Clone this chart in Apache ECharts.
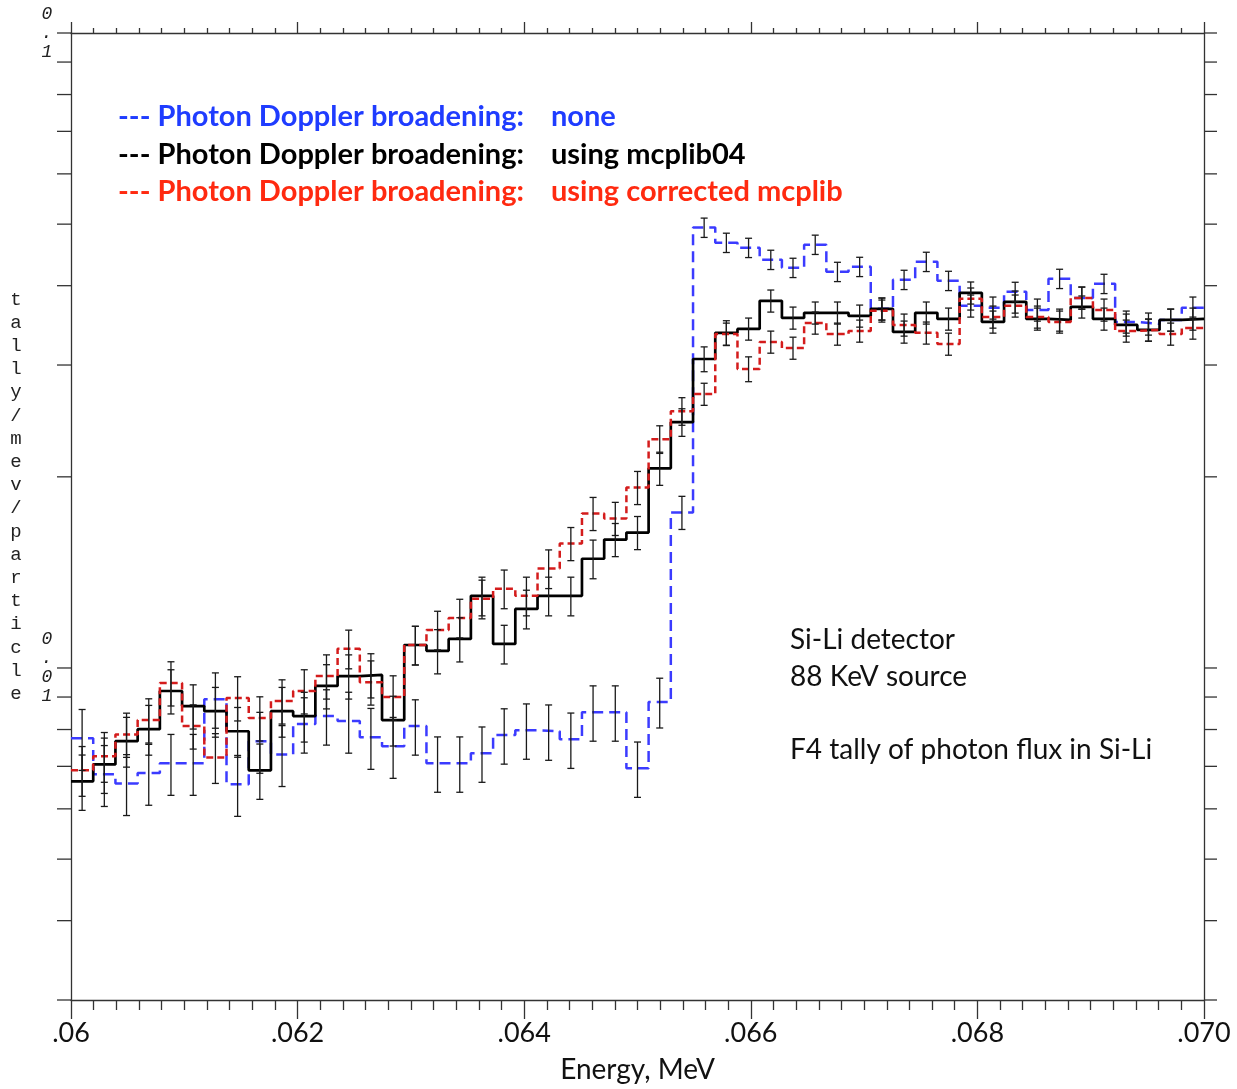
<!DOCTYPE html>
<html>
<head>
<meta charset="utf-8">
<script src="https://cdn.jsdelivr.net/npm/echarts@6/dist/echarts.min.js"></script>
<style>html,body{margin:0;padding:0;background:#fff}#c{width:1237px;height:1089px}</style>
</head>
<body>
<div id="c"></div>
<script>
// ---- axis definition ----
const E_MIN = 0.06, E_MAX = 0.07, N_BINS = 51;      // tally energy bins 0.06 50i 0.07
const xTickLabels = ['.06', '.062', '.064', '.066', '.068', '.070'];
const yMin = 0.003, yMax = 0.1;
const yTickValues = [0.003, 0.004, 0.005, 0.006, 0.007, 0.008, 0.009,
                     0.01, 0.02, 0.03, 0.04, 0.05, 0.06, 0.07, 0.08, 0.09, 0.1];
const yLabelValues = [0.01, 0.1];
const yLabelTexts = ['0.01', '0.1'];

// ---- series values (tally/MeV/particle), one per energy bin ----
const blueNone = [0.00775,0.00680,0.00658,0.00683,0.00708,0.00708,0.00893,0.00656,0.00767,0.00731,
  0.00816,0.00840,0.00825,0.00778,0.00753,0.00810,0.00708,0.00708,0.00734,0.00784,
  0.00798,0.00795,0.00772,0.00852,0.00852,0.00695,0.00884,0.01758,0.04938,0.04675,
  0.04590,0.04395,0.04269,0.04642,0.04207,0.04284,0.03678,0.04087,0.04363,0.04072,
  0.03718,0.03691,0.03913,0.03664,0.04102,0.03827,0.04028,0.03508,0.03483,0.03533,0.03691];
const blackMcplib04 = [0.00663,0.00705,0.00767,0.00801,0.00920,0.00871,0.00855,0.00795,0.00690,0.00855,
  0.00840,0.00937,0.00971,0.00975,0.00828,0.01087,0.01064,0.01111,0.01299,0.01091,
  0.01239,0.01299,0.01299,0.01486,0.01593,0.01634,0.02063,0.02438,0.03066,0.03371,
  0.03420,0.03786,0.03559,0.03625,0.03625,0.03585,0.03678,0.03383,0.03625,0.03546,
  0.03898,0.03508,0.03772,0.03546,0.03533,0.03705,0.03546,0.03470,0.03407,0.03533,0.03546];
const redCorrected = [0.00690,0.00726,0.00786,0.00828,0.00947,0.00810,0.00723,0.00897,0.00834,0.00887,
  0.00920,0.00971,0.01072,0.00950,0.00900,0.01087,0.01148,0.01199,0.01285,0.01333,
  0.01299,0.01434,0.01570,0.01751,0.01720,0.01924,0.02292,0.02538,0.02700,0.03358,
  0.02957,0.03262,0.03191,0.03495,0.03358,0.03395,0.03651,0.03470,0.03371,0.03238,
  0.03814,0.03572,0.03718,0.03572,0.03508,0.03827,0.03664,0.03395,0.03407,0.03358,0.03432];

// ---- relative errors ----
const blueErr = [0.11,0.11,0.11,0.11,0.11,0.11,0.10,0.11,0.11,0.11,
  0.10,0.10,0.11,0.11,0.11,0.10,0.10,0.10,0.10,0.10,
  0.10,0.10,0.10,0.10,0.10,0.10,0.09,0.06,0.035,0.035,
  0.035,0.035,0.035,0.035,0.035,0.035,0.04,0.035,0.035,0.035,
  0.04,0.04,0.035,0.04,0.035,0.04,0.035,0.04,0.04,0.04,0.04];
const blackErr = [0.10,0.10,0.09,0.09,0.08,0.08,0.09,0.09,0.10,0.09,
  0.09,0.08,0.08,0.08,0.09,0.07,0.08,0.08,0.07,0.07,
  0.07,0.07,0.07,0.07,0.06,0.06,0.06,0.05,0.045,0.045,
  0.04,0.04,0.04,0.04,0.04,0.04,0.04,0.04,0.04,0.04,
  0.04,0.04,0.04,0.04,0.04,0.04,0.04,0.04,0.04,0.04,0.04];
const redErr = [0.09,0.09,0.08,0.08,0.08,0.08,0.09,0.08,0.08,0.08,
  0.08,0.08,0.07,0.08,0.08,0.07,0.07,0.07,0.07,0.07,
  0.07,0.07,0.06,0.06,0.06,0.06,0.05,0.05,0.04,0.04,
  0.045,0.04,0.04,0.04,0.04,0.04,0.04,0.04,0.04,0.04,
  0.04,0.04,0.04,0.04,0.04,0.04,0.04,0.04,0.04,0.04,0.04];

const binW = (E_MAX - E_MIN) / N_BINS;
const edges = Array.from({length: N_BINS}, (_, i) => E_MIN + i * binW);
const centers = edges.map(e => e + binW / 2);

function stepData(vals) {
  const d = vals.map((v, i) => [edges[i], v]);
  d.push([E_MAX, vals[vals.length - 1]]);
  return d;
}
function errData(vals, errs) {
  return vals.map((v, i) => [centers[i], v, errs[i]]);
}
function errItem(params, api) {
  const x = api.value(0), v = api.value(1), e = api.value(2);
  const p = api.coord([x, v * (1 + e)]);
  const q = api.coord([x, v * (1 - e)]);
  const w = 3.5;
  const st = {stroke: '#1a1a1a', lineWidth: 1.3};
  return {type: 'group', children: [
    {type: 'line', shape: {x1: p[0], y1: p[1], x2: q[0], y2: q[1]}, style: st},
    {type: 'line', shape: {x1: p[0] - w, y1: p[1], x2: p[0] + w, y2: p[1]}, style: st},
    {type: 'line', shape: {x1: q[0] - w, y1: q[1], x2: q[0] + w, y2: q[1]}, style: st}
  ]};
}
function yTickItem(params, api) {
  const v = api.value(1);
  const l = api.coord([E_MIN, v]);
  const r = api.coord([E_MAX, v]);
  const st = {stroke: '#333', lineWidth: 1.3};
  return {type: 'group', children: [
    {type: 'line', shape: {x1: l[0] - 14, y1: l[1], x2: l[0], y2: l[1]}, style: st},
    {type: 'line', shape: {x1: r[0], y1: r[1], x2: r[0] + 13, y2: r[1]}, style: st}
  ]};
}
function yLabelFmt(v) {
  const lg = Math.log10(v);
  if (Math.abs(lg - Math.round(lg)) > 1e-6) return '';
  for (let i = 0; i < yLabelValues.length; i++) {
    if (Math.abs(Math.log10(yLabelValues[i]) - lg) < 1e-6) return yLabelTexts[i].split('').join('\n');
  }
  return '';
}

const axisLineStyle = {color: '#333', width: 1.3};
const legendFont = 'bold 29px Lato';
const noteFont = '28px Lato';
const chart = echarts.init(document.getElementById('c'), null, {renderer: 'canvas'});
chart.setOption({
  animation: false,
  backgroundColor: '#fff',
  grid: {left: 71, right: 33, top: 33, bottom: 84},
  xAxis: [{
    type: 'value', min: E_MIN, max: E_MAX, interval: 0.002, position: 'bottom',
    axisLine: {lineStyle: axisLineStyle},
    axisTick: {length: 19, lineStyle: axisLineStyle},
    minorTick: {show: true, splitNumber: 10, length: 10, lineStyle: axisLineStyle},
    splitLine: {show: false}, minorSplitLine: {show: false},
    axisLabel: {
      formatter: v => xTickLabels[Math.round((v - E_MIN) / 0.002)],
      fontFamily: 'Lato', fontSize: 27, color: '#111', margin: 20,
      showMinLabel: true, showMaxLabel: true
    },
    name: 'Energy, MeV', nameLocation: 'middle', nameGap: 56,
    nameTextStyle: {fontFamily: 'Lato', fontSize: 28, color: '#111'}
  }, {
    type: 'value', min: E_MIN, max: E_MAX, interval: 0.002, position: 'top',
    axisLine: {lineStyle: axisLineStyle},
    axisTick: {length: 11, lineStyle: axisLineStyle},
    minorTick: {show: true, splitNumber: 10, length: 5, lineStyle: axisLineStyle},
    splitLine: {show: false}, minorSplitLine: {show: false},
    axisLabel: {show: false}
  }],
  yAxis: [{
    type: 'log', logBase: 10, min: yMin, max: yMax, position: 'left',
    axisLine: {show: true, lineStyle: axisLineStyle},
    axisTick: {show: false}, splitLine: {show: false},
    axisLabel: {
      formatter: yLabelFmt, align: 'center', margin: 24,
      fontFamily: 'Liberation Mono', fontStyle: 'italic', fontSize: 18, lineHeight: 19, color: '#222',
      showMinLabel: false
    }
  }, {
    type: 'log', logBase: 10, min: yMin, max: yMax, position: 'right',
    axisLine: {show: true, lineStyle: axisLineStyle},
    axisTick: {show: false}, splitLine: {show: false}, axisLabel: {show: false}
  }],
  series: [
    {name: 'none', type: 'line', step: 'end', symbol: 'none', data: stepData(blueNone),
     lineStyle: {color: '#3b3bff', width: 2.5, type: [11, 6]}, z: 2},
    {name: 'mcplib04', type: 'line', step: 'end', symbol: 'none', data: stepData(blackMcplib04),
     lineStyle: {color: '#000', width: 2.7}, z: 3},
    {name: 'corrected', type: 'line', step: 'end', symbol: 'none', data: stepData(redCorrected),
     lineStyle: {color: '#d41c1c', width: 2.5, type: [7, 4]}, z: 4},
    {type: 'custom', renderItem: errItem, data: errData(blueNone, blueErr), z: 5, silent: true},
    {type: 'custom', renderItem: errItem, data: errData(blackMcplib04, blackErr), z: 5, silent: true},
    {type: 'custom', renderItem: errItem, data: errData(redCorrected, redErr), z: 5, silent: true},
    {type: 'custom', renderItem: yTickItem, data: yTickValues.map(v => [E_MIN, v]), clip: false, z: 6, silent: true}
  ],
  graphic: [
    {type: 'text', x: 16, y: 288, silent: true, style: {
      text: 'tally/mev/particle'.split('').join('\n'), fill: '#222',
      font: '19px "Liberation Mono"', lineHeight: 23.2, align: 'center', verticalAlign: 'top'}},
    {type: 'text', x: 118, y: 117, style: {text: '--- Photon Doppler broadening:', fill: '#1f3cff', font: legendFont, verticalAlign: 'middle'}},
    {type: 'text', x: 551, y: 117, style: {text: 'none', fill: '#1f3cff', font: legendFont, verticalAlign: 'middle'}},
    {type: 'text', x: 118, y: 155, style: {text: '--- Photon Doppler broadening:', fill: '#000', font: legendFont, verticalAlign: 'middle'}},
    {type: 'text', x: 551, y: 155, style: {text: 'using mcplib04', fill: '#000', font: legendFont, verticalAlign: 'middle'}},
    {type: 'text', x: 118, y: 192, style: {text: '--- Photon Doppler broadening:', fill: '#ff2a10', font: legendFont, verticalAlign: 'middle'}},
    {type: 'text', x: 551, y: 192, style: {text: 'using corrected mcplib', fill: '#ff2a10', font: legendFont, verticalAlign: 'middle'}},
    {type: 'text', x: 790, y: 640, style: {text: 'Si-Li detector', fill: '#111', font: noteFont, verticalAlign: 'middle'}},
    {type: 'text', x: 790, y: 677, style: {text: '88 KeV source', fill: '#111', font: noteFont, verticalAlign: 'middle'}},
    {type: 'text', x: 790, y: 750, style: {text: 'F4 tally of photon flux in Si-Li', fill: '#111', font: noteFont, verticalAlign: 'middle'}}
  ]
});
</script>
</body>
</html>
